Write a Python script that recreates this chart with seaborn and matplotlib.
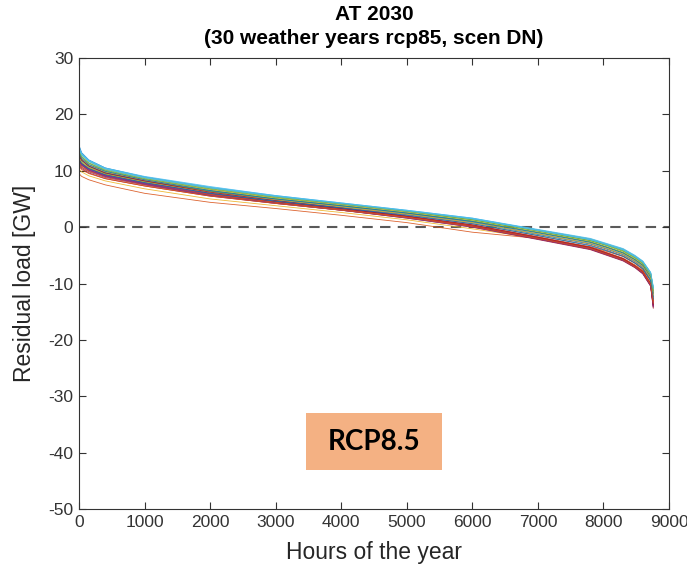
import numpy as np
import pandas as pd
import matplotlib
matplotlib.use("Agg")
import matplotlib.pyplot as plt
from matplotlib.patches import Rectangle
import seaborn as sns

sns.set_theme(style="white")
plt.rcParams['font.family'] = ['Liberation Sans', 'DejaVu Sans']
plt.rcParams['axes.unicode_minus'] = False

hours = [0, 40, 150, 400, 1000, 2000, 3000, 4000, 5000, 6000, 7000, 7800, 8050, 8300, 8480, 8600, 8720, 8760]

y01 = [14.5, 13.2, 11.9, 10.5, 8.9, 7.0, 5.5, 4.2, 2.9, 1.5, -0.5, -2.2, -3.1, -4.0, -5.2, -6.2, -8.2, -10.8]
y02 = [12.2, 11.4, 10.5, 9.4, 8.0, 6.1, 4.7, 3.5, 2.2, 0.6, -1.5, -3.2, -4.1, -5.1, -6.3, -7.3, -9.4, -12.7]
y03 = [13.0, 12.1, 11.0, 9.8, 8.3, 6.5, 5.0, 3.8, 2.5, 1.0, -1.0, -2.7, -3.6, -4.6, -5.8, -6.8, -8.9, -11.9]
y04 = [11.3, 10.6, 9.8, 8.8, 7.5, 5.6, 4.3, 3.0, 1.7, 0.2, -1.9, -3.7, -4.7, -5.7, -6.9, -7.9, -10.1, -13.8]
y05 = [13.8, 12.9, 11.7, 10.3, 8.8, 7.0, 5.5, 4.2, 2.9, 1.5, -0.5, -2.1, -3.0, -3.9, -5.1, -6.1, -8.1, -10.9]
y06 = [14.2, 13.1, 11.9, 10.5, 9.0, 7.2, 5.6, 4.3, 3.0, 1.6, -0.4, -2.0, -2.9, -3.8, -5.0, -6.0, -8.0, -10.5]
y07 = [11.8, 11.0, 10.1, 9.1, 7.7, 5.8, 4.4, 3.2, 1.8, 0.1, -2.1, -3.9, -4.9, -5.9, -7.1, -8.2, -10.4, -14.2]
y08 = [12.8, 11.9, 10.9, 9.7, 8.2, 6.4, 4.9, 3.7, 2.4, 0.9, -1.2, -2.9, -3.8, -4.8, -6.0, -7.0, -9.1, -12.2]
y09 = [9.5, 9.0, 8.4, 7.5, 6.0, 4.4, 3.3, 2.1, 0.8, -0.9, -2.0, -3.5, -4.3, -5.2, -6.4, -7.5, -9.5, -13.0]
y10 = [10.3, 9.8, 9.1, 8.2, 6.8, 5.0, 3.8, 2.6, 1.3, -0.3, -2.0, -3.8, -4.8, -5.8, -7.0, -8.0, -10.2, -13.6]
y11 = [12.0, 11.2, 10.3, 9.2, 7.8, 5.9, 4.5, 3.3, 1.9, 0.3, -1.8, -3.6, -4.6, -5.6, -6.8, -7.8, -10.0, -13.3]
y12 = [13.2, 12.4, 11.3, 10.0, 8.5, 6.7, 5.2, 4.0, 2.7, 1.3, -0.7, -2.4, -3.3, -4.3, -5.5, -6.5, -8.5, -11.3]
y13 = [13.6, 12.7, 11.6, 10.2, 8.7, 6.9, 5.4, 4.1, 2.8, 1.4, -0.6, -2.3, -3.2, -4.1, -5.3, -6.3, -8.3, -11.0]
y14 = [11.0, 10.4, 9.6, 8.6, 7.3, 5.5, 4.2, 3.0, 1.6, 0.0, -2.2, -4.0, -5.0, -6.0, -7.2, -8.3, -10.5, -14.4]
y15 = [12.6, 11.8, 10.8, 9.6, 8.1, 6.3, 4.8, 3.6, 2.3, 0.8, -1.3, -3.0, -3.9, -4.9, -6.1, -7.1, -9.2, -12.4]
y16 = [11.6, 10.9, 10.0, 9.0, 7.6, 5.8, 4.5, 3.2, 1.9, 0.4, -1.7, -3.5, -4.5, -5.5, -6.7, -7.7, -9.9, -13.1]
y17 = [12.9, 12.0, 11.0, 9.8, 8.4, 6.6, 5.1, 3.9, 2.6, 1.1, -0.9, -2.6, -3.5, -4.5, -5.7, -6.7, -8.8, -11.7]
y18 = [11.9, 11.1, 10.2, 9.1, 7.7, 5.7, 4.3, 3.1, 1.7, 0.1, -2.0, -3.8, -4.8, -5.8, -7.0, -8.1, -10.3, -13.9]
y19 = [12.4, 11.6, 10.6, 9.5, 8.1, 6.4, 5.0, 3.8, 2.5, 1.1, -0.9, -2.6, -3.5, -4.5, -5.7, -6.7, -8.8, -11.6]
y20 = [13.9, 12.9, 11.8, 10.4, 8.9, 7.1, 5.6, 4.3, 3.0, 1.6, -0.5, -2.1, -3.0, -3.9, -5.1, -6.1, -8.1, -10.7]
y21 = [12.1, 11.3, 10.4, 9.3, 7.9, 6.0, 4.5, 3.3, 1.9, 0.2, -2.0, -3.8, -4.8, -5.8, -7.0, -8.1, -10.3, -14.0]
y22 = [13.1, 12.2, 11.1, 9.9, 8.4, 6.5, 5.0, 3.8, 2.5, 1.0, -1.0, -2.7, -3.6, -4.6, -5.8, -6.8, -8.9, -11.8]
y23 = [11.4, 10.7, 9.9, 8.9, 7.5, 5.7, 4.4, 3.1, 1.8, 0.3, -1.8, -3.6, -4.6, -5.6, -6.8, -7.8, -10.0, -13.0]
y24 = [12.3, 11.5, 10.5, 9.4, 8.0, 6.2, 4.8, 3.6, 2.3, 0.8, -1.2, -2.9, -3.8, -4.8, -6.0, -7.0, -9.1, -12.1]
y25 = [11.7, 11.0, 10.1, 9.0, 7.6, 5.6, 4.2, 3.0, 1.6, 0.0, -2.1, -3.9, -4.9, -5.9, -7.1, -8.2, -10.4, -14.1]
y26 = [13.4, 12.5, 11.4, 10.1, 8.6, 6.8, 5.3, 4.1, 2.8, 1.3, -0.7, -2.4, -3.2, -4.2, -5.4, -6.4, -8.4, -11.2]
y27 = [14.0, 13.0, 11.8, 10.4, 8.8, 7.0, 5.5, 4.2, 2.9, 1.5, -0.6, -2.2, -3.1, -4.0, -5.2, -6.2, -8.2, -10.9]
y28 = [12.7, 11.9, 10.8, 9.6, 8.2, 6.2, 4.7, 3.4, 2.0, 0.4, -1.8, -3.6, -4.6, -5.6, -6.9, -7.9, -10.1, -13.7]
y29 = [12.0, 11.3, 10.4, 9.3, 7.9, 6.0, 4.6, 3.4, 2.1, 0.6, -1.5, -3.3, -4.2, -5.2, -6.4, -7.4, -9.5, -12.8]
y30 = [10.8, 10.2, 9.5, 8.6, 7.3, 5.5, 4.2, 3.0, 1.7, 0.1, -2.0, -3.8, -4.8, -5.8, -7.0, -8.0, -10.2, -13.5]

series = [y01, y02, y03, y04, y05, y06, y07, y08, y09, y10,
          y11, y12, y13, y14, y15, y16, y17, y18, y19, y20,
          y21, y22, y23, y24, y25, y26, y27, y28, y29, y30]

xticks = [0, 1000, 2000, 3000, 4000, 5000, 6000, 7000, 8000, 9000]
yticks = [-50, -40, -30, -20, -10, 0, 10, 20, 30]

matlab_colors = ['#0072BD', '#D95319', '#EDB120', '#7E2F8E', '#77AC30', '#4DBEEE', '#A2142F']

rows = []
for i, s in enumerate(series):
    for h, v in zip(hours, s):
        rows.append({"year": f"W{i+1:02d}", "hour": h, "load": v})
df = pd.DataFrame(rows)
palette = {f"W{i+1:02d}": matlab_colors[i % 7] for i in range(len(series))}

W, H = 687, 566
fig = plt.figure(figsize=(W/100, H/100), dpi=100)
ax = fig.add_axes([79/W, 1-509/H, (669-79)/W, (509-58)/H])

sns.lineplot(data=df, x="hour", y="load", hue="year", palette=palette,
             estimator=None, sort=False, legend=False, linewidth=0.6, alpha=0.9, ax=ax)

ax.axhline(0, color='#5a5a5a', linestyle=(0, (5, 3.5)), linewidth=1.5, zorder=0.5)

ax.set_xlim(0, 9000)
ax.set_ylim(-50, 30)
ax.set_xticks(xticks)
ax.set_yticks(yticks)
ax.tick_params(direction='in', length=5, width=0.8, colors='#333333', labelsize=12.5,
               top=True, right=True, bottom=True, left=True, pad=4)
for sp in ax.spines.values():
    sp.set_color('#333333')
    sp.set_linewidth(0.8)
    sp.set_visible(True)

ax.set_xlabel("Hours of the year", fontsize=16.5, color='#262626')
ax.set_ylabel("Residual load [GW]", fontsize=16.5, color='#262626')
ax.xaxis.set_label_coords(0.5, (509-552)/451)
ax.xaxis.label.set_va('center')
ax.yaxis.set_label_coords((25-79)/590, 0.5)
ax.yaxis.label.set_va('center')
ax.yaxis.label.set_ha('center')

cx = (79 + 669) / 2 / W
fig.text(cx, 1-15/H, "AT 2030", ha='center', va='center', fontsize=15,
         fontweight='bold', color='black')
fig.text(cx, 1-38/H, "(30 weather years rcp85, scen DN)", ha='center', va='center',
         fontsize=15, fontweight='bold', color='black')

fig.patches.append(Rectangle((306/W, 1-470/H), 136/W, 57/H,
                             transform=fig.transFigure, facecolor='#F4B183',
                             edgecolor='none', zorder=5))
fig.text(374/W, 1-442/H, "RCP8.5", ha='center', va='center', fontsize=20,
         fontweight='bold', family=['Lato', 'DejaVu Sans'], color='black', zorder=6)

fig.savefig("out.png", dpi=100)
